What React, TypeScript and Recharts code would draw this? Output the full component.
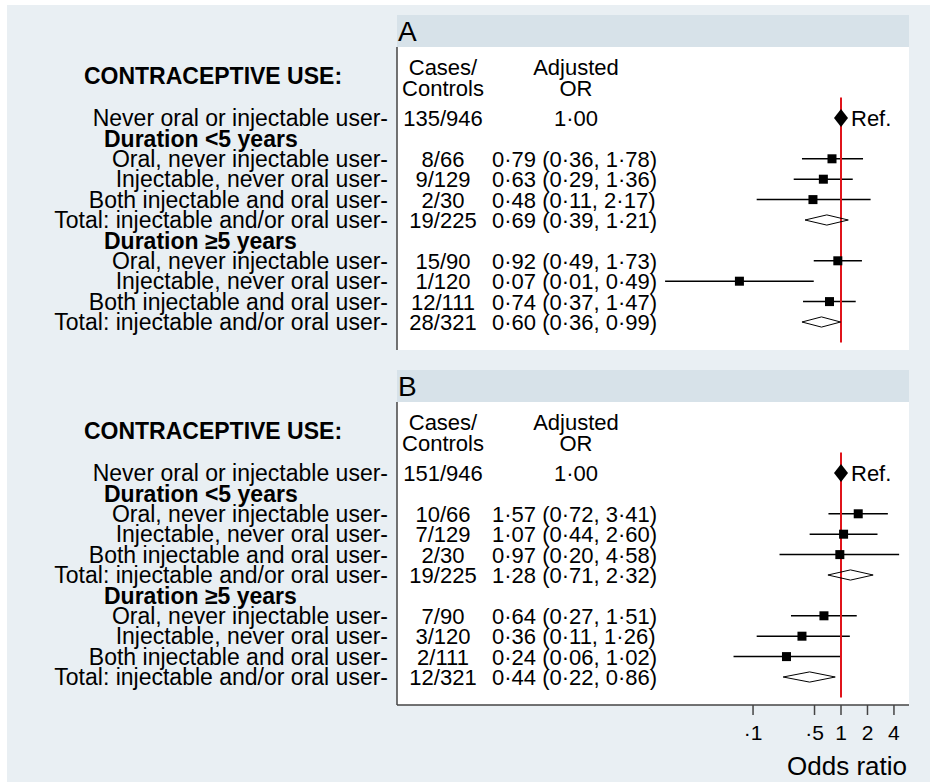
import React from 'react';
import { ScatterChart, Scatter, XAxis, YAxis, ErrorBar, ReferenceLine, CartesianGrid, Customized } from 'recharts';

const rowLabels = [
  'Never oral or injectable user-',
  'Duration <5 years',
  'Oral, never injectable user-',
  'Injectable, never oral user-',
  'Both injectable and oral user-',
  'Total: injectable and/or oral user-',
  'Duration \u22655 years',
  'Oral, never injectable user-',
  'Injectable, never oral user-',
  'Both injectable and oral user-',
  'Total: injectable and/or oral user-',
];
const rowKinds = ['ref', 'group', 'est', 'est', 'est', 'total', 'group', 'est', 'est', 'est', 'total'];

// panel A
const casesA = ['135/946', '', '8/66', '9/129', '2/30', '19/225', '', '15/90', '1/120', '12/111', '28/321'];
const orA = [1.0, null, 0.79, 0.63, 0.48, 0.69, null, 0.92, 0.07, 0.74, 0.6];
const lowA = [null, null, 0.36, 0.29, 0.11, 0.39, null, 0.49, 0.01, 0.37, 0.36];
const highA = [null, null, 1.78, 1.36, 2.17, 1.21, null, 1.73, 0.49, 1.47, 0.99];

// panel B
const casesB = ['151/946', '', '10/66', '7/129', '2/30', '19/225', '', '7/90', '3/120', '2/111', '12/321'];
const orB = [1.0, null, 1.57, 1.07, 0.97, 1.28, null, 0.64, 0.36, 0.24, 0.44];
const lowB = [null, null, 0.72, 0.44, 0.2, 0.71, null, 0.27, 0.11, 0.06, 0.22];
const highB = [null, null, 3.41, 2.6, 4.58, 2.32, null, 1.51, 1.26, 1.02, 0.86];

const oddsTicks = [0.1, 0.5, 1, 2, 4];
const oddsTickLabels = ['\u00b71', '\u00b75', '1', '2', '4'];

const FONT = 'Liberation Sans, Arial, sans-serif';
const FS = 22; // table columns
const LFS = 23; // row labels
const BG = '#e9eff3';
const HEADER_BG = '#d7e2e9';
const RED = '#e0141b';

// layout (px)
const PLOT_LEFT = 397;
const PLOT_RIGHT = 909;
const PLOT_TOP = 47;
const PLOT_H = 303;
const ROW_PX = 20.4;
const FIRST_ROW = 71; // px from plot top to first row
const PX_PER_LN = 38.2;
const REF_PX = 841;
const CASES_X = 443;
const OR_X = 492;
const OR_MID = 576;

const xDomain = [Math.exp(-(REF_PX - PLOT_LEFT) / PX_PER_LN), Math.exp((PLOT_RIGHT - REF_PX) / PX_PER_LN)];
const yDomain = [-FIRST_ROW / ROW_PX, (PLOT_H - FIRST_ROW) / ROW_PX];
const rowTicks = rowLabels.map((_, i) => i);

const fmt = (v: number) => v.toFixed(2).replace('.', '\u00b7');

function buildRows(cases: string[], or: (number | null)[], low: (number | null)[], high: (number | null)[]) {
  return rowKinds
    .map((kind, i) => ({
      row: i,
      kind,
      cases: cases[i],
      or: or[i],
      low: low[i],
      high: high[i],
      err: or[i] != null && low[i] != null ? [(or[i] as number) - (low[i] as number), (high[i] as number) - (or[i] as number)] : null,
    }))
    .filter((r) => r.or != null);
}

function diamond(r: any) {
  return [
    { or: r.low, row: r.row },
    { or: r.or, row: r.row - 0.25 },
    { or: r.high, row: r.row },
    { or: r.or, row: r.row + 0.25 },
    { or: r.low, row: r.row },
  ];
}

const RowTick = (props: any) => {
  const { y, payload } = props;
  const i = payload.value;
  if (rowKinds[i] === 'group') {
    return (
      <text x={104} y={y} dy="0.36em" fontSize={LFS} fontWeight="bold" fontFamily={FONT} fill="#000" textAnchor="start">
        {rowLabels[i]}
      </text>
    );
  }
  return (
    <text x={388} y={y} dy="0.36em" fontSize={LFS} fontFamily={FONT} fill="#000" textAnchor="end">
      {rowLabels[i]}
    </text>
  );
};

const OddsTick = (props: any) => {
  const { x, y, payload } = props;
  const idx = oddsTicks.indexOf(payload.value);
  return (
    <text x={x} y={y} dy="0.71em" fontSize={21} fontFamily={FONT} fill="#000" textAnchor="middle">
      {oddsTickLabels[idx]}
    </text>
  );
};

const TextShape = (p: any) => {
  const r = p.payload;
  return (
    <g fontFamily={FONT} fontSize={FS} fill="#000">
      <text x={CASES_X} y={p.cy} dy="0.36em" textAnchor="middle">{r.cases}</text>
      {r.kind === 'ref' ? (
        <text x={OR_MID} y={p.cy} dy="0.36em" textAnchor="middle">{fmt(r.or)}</text>
      ) : (
        <text x={OR_X} y={p.cy} dy="0.36em" textAnchor="start">
          {`${fmt(r.or)} (${fmt(r.low)}, ${fmt(r.high)})`}
        </text>
      )}
    </g>
  );
};

const SquareShape = (p: any) => <rect x={p.cx - 4.5} y={p.cy - 4.5} width={9} height={9} fill="#000" />;

const RefShape = (p: any) => (
  <g>
    <polygon points={`${p.cx},${p.cy - 9} ${p.cx + 7},${p.cy} ${p.cx},${p.cy + 9} ${p.cx - 7},${p.cy}`} fill="#000" />
    <text x={p.cx + 10} y={p.cy} dy="0.36em" fontSize={FS} fontFamily={FONT} fill="#000">Ref.</text>
  </g>
);

const PanelHeader = ({ letter, axisTitle }: { letter: string; axisTitle?: boolean }) => (
  <g fontFamily={FONT} fill="#000">
    <rect x={PLOT_LEFT} y={15} width={PLOT_RIGHT - PLOT_LEFT} height={32} fill={HEADER_BG} />
    <text x={398} y={31} dy="0.36em" fontSize={28}>{letter}</text>
    <text x={213} y={76} dy="0.36em" fontSize={LFS} fontWeight="bold" textAnchor="middle">CONTRACEPTIVE USE:</text>
    <text x={CASES_X} y={67} dy="0.36em" fontSize={FS} textAnchor="middle">Cases/</text>
    <text x={CASES_X} y={88} dy="0.36em" fontSize={FS} textAnchor="middle">Controls</text>
    <text x={OR_MID} y={67} dy="0.36em" fontSize={FS} textAnchor="middle">Adjusted</text>
    <text x={OR_MID} y={88} dy="0.36em" fontSize={FS} textAnchor="middle">OR</text>
    {axisTitle && (
      <text x={907} y={411} dy="0.36em" fontSize={26} textAnchor="end">Odds ratio</text>
    )}
  </g>
);

function Panel({ letter, rows, showAxis }: { letter: string; rows: any[]; showAxis: boolean }) {
  const est = rows.filter((r) => r.kind === 'est');
  const ref = rows.filter((r) => r.kind === 'ref');
  const totals = rows.filter((r) => r.kind === 'total');
  const height = showAxis ? 427 : 355;
  return (
    <ScatterChart
      width={930}
      height={height}
      margin={{ top: PLOT_TOP, right: 930 - PLOT_RIGHT, bottom: showAxis ? 47 : 5, left: 0 }}
    >
      <CartesianGrid fill="#ffffff" horizontal={false} vertical={false} />
      <XAxis
        type="number"
        dataKey="or"
        scale="log"
        domain={xDomain}
        ticks={oddsTicks}
        hide={!showAxis}
        height={30}
        tick={<OddsTick />}
        tickSize={10}
        tickMargin={10}
        axisLine={{ stroke: '#444', strokeWidth: 1.5 }}
        tickLine={{ stroke: '#444', strokeWidth: 1.5 }}
      />
      <YAxis
        type="number"
        dataKey="row"
        domain={yDomain}
        reversed
        ticks={rowTicks}
        interval={0}
        width={PLOT_LEFT}
        tick={<RowTick />}
        tickLine={false}
        axisLine={{ stroke: '#444', strokeWidth: 1.5 }}
      />
      <Customized component={<PanelHeader letter={letter} axisTitle={showAxis} />} />
      <Scatter data={rows} shape={<TextShape />} isAnimationActive={false} />
      <Scatter data={est} shape={<SquareShape />} isAnimationActive={false}>
        <ErrorBar dataKey="err" direction="x" width={0} stroke="#000" strokeWidth={1.5} />
      </Scatter>
      {totals.map((r) => (
        <Scatter
          key={r.row}
          data={diamond(r)}
          line={{ stroke: '#000', strokeWidth: 1 }}
          lineType="joint"
          shape={() => <g />}
          isAnimationActive={false}
        />
      ))}
      <Scatter data={ref} shape={<RefShape />} isAnimationActive={false} />
      <ReferenceLine
        segment={[{ x: 1, y: -1 }, { x: 1, y: 11 }]}
        stroke={RED}
        strokeWidth={2}
      />
    </ScatterChart>
  );
}

const rowsA = buildRows(casesA, orA, lowA, highA);
const rowsB = buildRows(casesB, orB, lowB, highB);

export default function App() {
  return (
    <div style={{ position: 'absolute', left: 0, top: 0, width: 930, height: 782, background: '#fff', overflow: 'hidden' }}>
      <div style={{ position: 'absolute', left: 7, top: 5, right: 0, bottom: 0, background: BG }} />
      <div style={{ position: 'absolute', left: 0, top: 0 }}>
        <Panel letter="A" rows={rowsA} showAxis={false} />
      </div>
      <div style={{ position: 'absolute', left: 0, top: 355 }}>
        <Panel letter="B" rows={rowsB} showAxis={true} />
      </div>
    </div>
  );
}
